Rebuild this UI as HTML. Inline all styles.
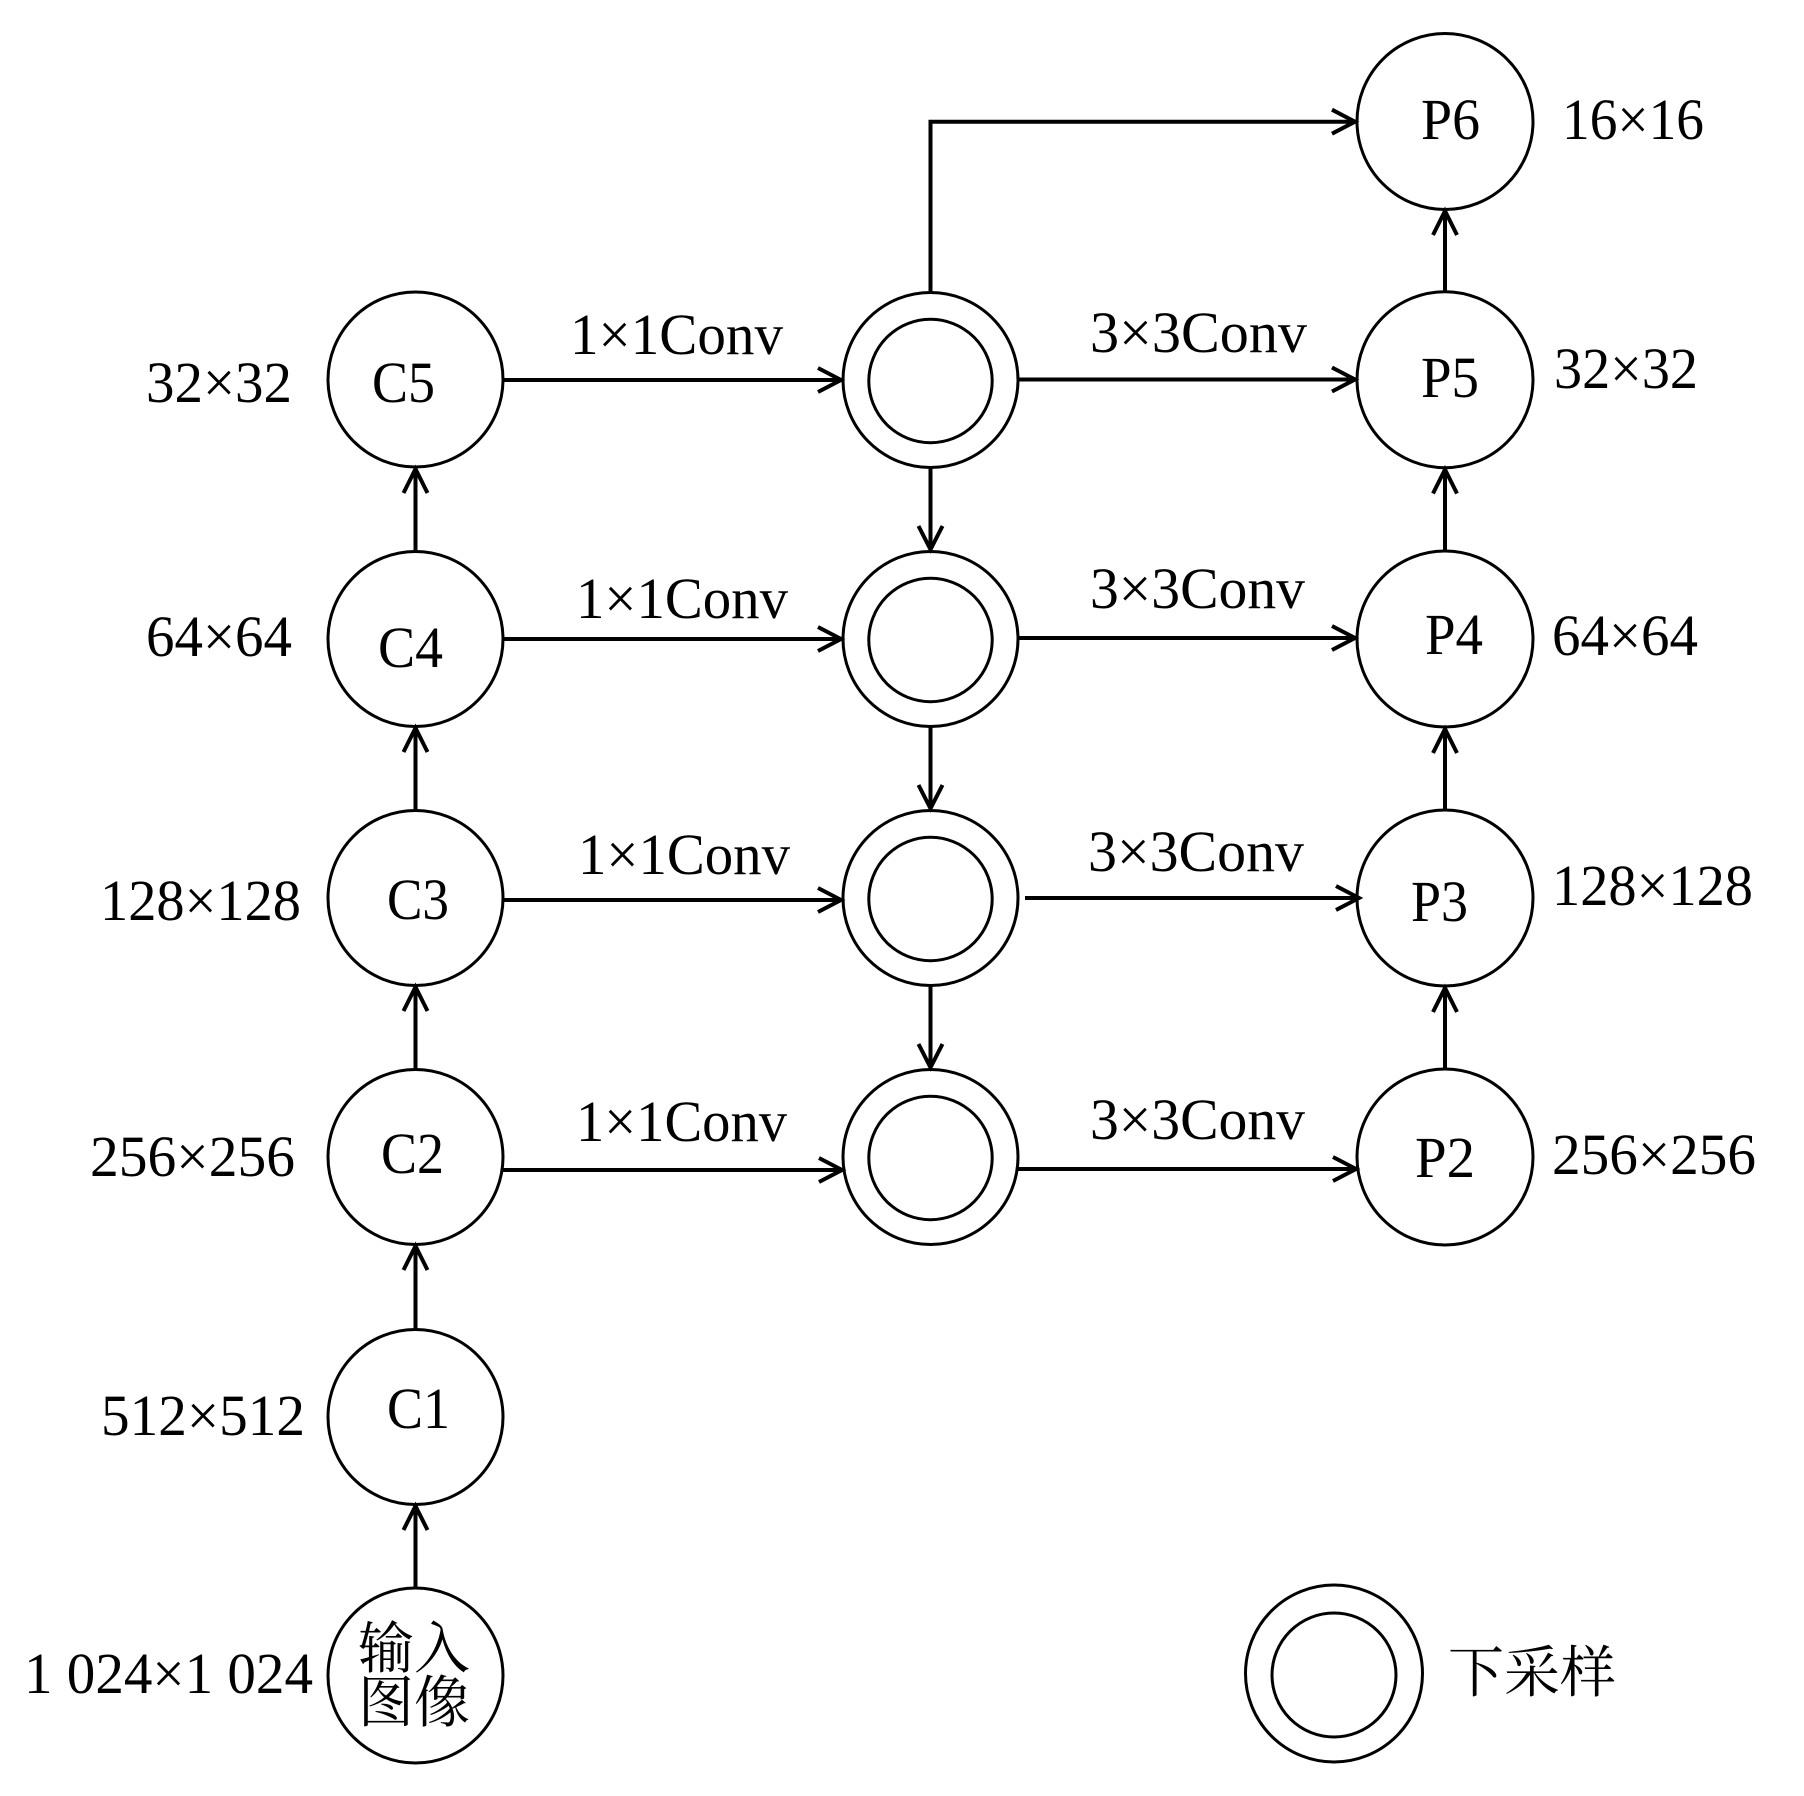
<!DOCTYPE html>
<html>
<head>
<meta charset="utf-8">
<style>
  html, body { margin: 0; padding: 0; background: #fff; }
  svg { display: block; }
  .t { font-family: "Liberation Serif", "Times New Roman", serif; font-size: 58px; fill: #000; }
  .c { font-family: "Liberation Serif", "Noto Serif CJK SC", "Noto Sans CJK SC", serif; font-size: 56px; fill: #000; }
</style>
</head>
<body>
<svg width="1804" height="1796" viewBox="0 0 1804 1796" xmlns="http://www.w3.org/2000/svg">
  <rect x="0" y="0" width="1804" height="1796" fill="#fff"/>

  <g fill="none" stroke="#000" stroke-width="3">
    <!-- Left column -->
    <circle cx="415.5" cy="379.5" r="87.5"/>
    <circle cx="415.5" cy="639" r="87.5"/>
    <circle cx="415.5" cy="898" r="87.5"/>
    <circle cx="415.5" cy="1157" r="87.5"/>
    <circle cx="415.5" cy="1417" r="87.5"/>
    <circle cx="415.5" cy="1675.5" r="87.5"/>

    <!-- Middle column (double circles) -->
    <circle cx="930.5" cy="380" r="87.5"/>
    <circle cx="930.5" cy="381" r="61.7"/>
    <circle cx="930.5" cy="639" r="87.5"/>
    <circle cx="930.5" cy="640" r="61.7"/>
    <circle cx="930.5" cy="898" r="87.5"/>
    <circle cx="930.5" cy="899" r="61.7"/>
    <circle cx="930.5" cy="1157" r="87.5"/>
    <circle cx="930.5" cy="1158" r="61.7"/>

    <!-- Right column -->
    <circle cx="1445" cy="121.5" r="88"/>
    <circle cx="1445" cy="379.7" r="88"/>
    <circle cx="1445" cy="639" r="88"/>
    <circle cx="1445" cy="898" r="88"/>
    <circle cx="1445" cy="1157" r="88"/>

    <!-- Legend -->
    <circle cx="1334" cy="1673.5" r="88.5"/>
    <circle cx="1334" cy="1675" r="62"/>
  </g>

  <g fill="none" stroke="#000" stroke-width="4" stroke-linejoin="miter" stroke-linecap="butt">
    <!-- Left column up arrows -->
    <line x1="415.5" y1="1588" x2="415.5" y2="1506"/>
    <polyline points="403.5,1530 415.5,1506 427.5,1530"/>
    <line x1="415.5" y1="1329.5" x2="415.5" y2="1246"/>
    <polyline points="403.5,1270 415.5,1246 427.5,1270"/>
    <line x1="415.5" y1="1069.5" x2="415.5" y2="987"/>
    <polyline points="403.5,1011 415.5,987 427.5,1011"/>
    <line x1="415.5" y1="810.5" x2="415.5" y2="728"/>
    <polyline points="403.5,752 415.5,728 427.5,752"/>
    <line x1="415.5" y1="551.5" x2="415.5" y2="469"/>
    <polyline points="403.5,493 415.5,469 427.5,493"/>

    <!-- 1x1 conv arrows -->
    <line x1="503" y1="380" x2="841" y2="380"/>
    <polyline points="818,368 841,380 818,392"/>
    <line x1="503" y1="639" x2="841" y2="639"/>
    <polyline points="818,627 841,639 818,651"/>
    <line x1="503" y1="900" x2="841" y2="900"/>
    <polyline points="818,888 841,900 818,912"/>
    <line x1="502" y1="1170" x2="842" y2="1170"/>
    <polyline points="819,1158 842,1170 819,1182"/>

    <!-- Middle column down arrows -->
    <line x1="930.5" y1="467.5" x2="930.5" y2="549.5"/>
    <polyline points="918.5,526 930.5,549.5 942.5,526"/>
    <line x1="930.5" y1="726.5" x2="930.5" y2="808.5"/>
    <polyline points="918.5,785 930.5,808.5 942.5,785"/>
    <line x1="930.5" y1="985.5" x2="930.5" y2="1067.5"/>
    <polyline points="918.5,1044 930.5,1067.5 942.5,1044"/>

    <!-- Top route to P6 -->
    <polyline points="930.5,292.5 930.5,121.7 1355,121.7"/>
    <polyline points="1332,109.7 1355,121.7 1332,133.7"/>

    <!-- 3x3 conv arrows -->
    <line x1="1018" y1="379.5" x2="1355" y2="379.5"/>
    <polyline points="1332,367.5 1355,379.5 1332,391.5"/>
    <line x1="1018" y1="638" x2="1355" y2="638"/>
    <polyline points="1332,626 1355,638 1332,650"/>
    <line x1="1025" y1="898" x2="1359" y2="898"/>
    <polyline points="1336,886 1359,898 1336,910"/>
    <line x1="1018" y1="1169" x2="1356" y2="1169"/>
    <polyline points="1333,1157 1356,1169 1333,1181"/>

    <!-- Right column up arrows -->
    <line x1="1445" y1="1069" x2="1445" y2="988"/>
    <polyline points="1433,1012 1445,988 1457,1012"/>
    <line x1="1445" y1="810" x2="1445" y2="729"/>
    <polyline points="1433,753 1445,729 1457,753"/>
    <line x1="1445" y1="551" x2="1445" y2="469.5"/>
    <polyline points="1433,493.5 1445,469.5 1457,493.5"/>
    <line x1="1445" y1="291.7" x2="1445" y2="211"/>
    <polyline points="1433,235 1445,211 1457,235"/>
  </g>

  <!-- Left size labels -->
  <text class="t" x="146" y="402" textLength="146" lengthAdjust="spacingAndGlyphs">32×32</text>
  <text class="t" x="146" y="656" textLength="146" lengthAdjust="spacingAndGlyphs">64×64</text>
  <text class="t" x="100" y="920" textLength="201" lengthAdjust="spacingAndGlyphs">128×128</text>
  <text class="t" x="90" y="1176" textLength="205" lengthAdjust="spacingAndGlyphs">256×256</text>
  <text class="t" x="101" y="1435" textLength="204" lengthAdjust="spacingAndGlyphs">512×512</text>
  <text class="t" x="24" y="1693" textLength="289" lengthAdjust="spacingAndGlyphs">1 024×1 024</text>

  <!-- Left node labels -->
  <text class="t" x="372" y="402" textLength="63" lengthAdjust="spacingAndGlyphs">C5</text>
  <text class="t" x="378" y="667" textLength="65" lengthAdjust="spacingAndGlyphs">C4</text>
  <text class="t" x="387" y="919" textLength="62" lengthAdjust="spacingAndGlyphs">C3</text>
  <text class="t" x="381" y="1173" textLength="63" lengthAdjust="spacingAndGlyphs">C2</text>
  <text class="t" x="387" y="1428" textLength="63" lengthAdjust="spacingAndGlyphs">C1</text>
  <text class="c" x="358" y="1668">输入</text>
  <text class="c" x="358" y="1722">图像</text>

  <!-- 1x1Conv labels -->
  <text class="t" x="570" y="354" textLength="213" lengthAdjust="spacingAndGlyphs">1×1Conv</text>
  <text class="t" x="576" y="618" textLength="212" lengthAdjust="spacingAndGlyphs">1×1Conv</text>
  <text class="t" x="578" y="874" textLength="212" lengthAdjust="spacingAndGlyphs">1×1Conv</text>
  <text class="t" x="576" y="1141" textLength="211" lengthAdjust="spacingAndGlyphs">1×1Conv</text>

  <!-- 3x3Conv labels -->
  <text class="t" x="1090" y="352" textLength="217" lengthAdjust="spacingAndGlyphs">3×3Conv</text>
  <text class="t" x="1090" y="608" textLength="215" lengthAdjust="spacingAndGlyphs">3×3Conv</text>
  <text class="t" x="1088" y="871" textLength="216" lengthAdjust="spacingAndGlyphs">3×3Conv</text>
  <text class="t" x="1090" y="1139" textLength="215" lengthAdjust="spacingAndGlyphs">3×3Conv</text>

  <!-- Right node labels -->
  <text class="t" x="1421" y="139" textLength="59" lengthAdjust="spacingAndGlyphs">P6</text>
  <text class="t" x="1421" y="397" textLength="58" lengthAdjust="spacingAndGlyphs">P5</text>
  <text class="t" x="1425" y="654" textLength="58" lengthAdjust="spacingAndGlyphs">P4</text>
  <text class="t" x="1411" y="921" textLength="57" lengthAdjust="spacingAndGlyphs">P3</text>
  <text class="t" x="1415" y="1177" textLength="60" lengthAdjust="spacingAndGlyphs">P2</text>

  <!-- Right size labels -->
  <text class="t" x="1562" y="139" textLength="142" lengthAdjust="spacingAndGlyphs">16×16</text>
  <text class="t" x="1554" y="388" textLength="144" lengthAdjust="spacingAndGlyphs">32×32</text>
  <text class="t" x="1552" y="655" textLength="146" lengthAdjust="spacingAndGlyphs">64×64</text>
  <text class="t" x="1552" y="905" textLength="201" lengthAdjust="spacingAndGlyphs">128×128</text>
  <text class="t" x="1552" y="1174" textLength="204" lengthAdjust="spacingAndGlyphs">256×256</text>

  <!-- Legend label -->
  <text class="c" x="1448" y="1692">下采样</text>
</svg>
</body>
</html>
